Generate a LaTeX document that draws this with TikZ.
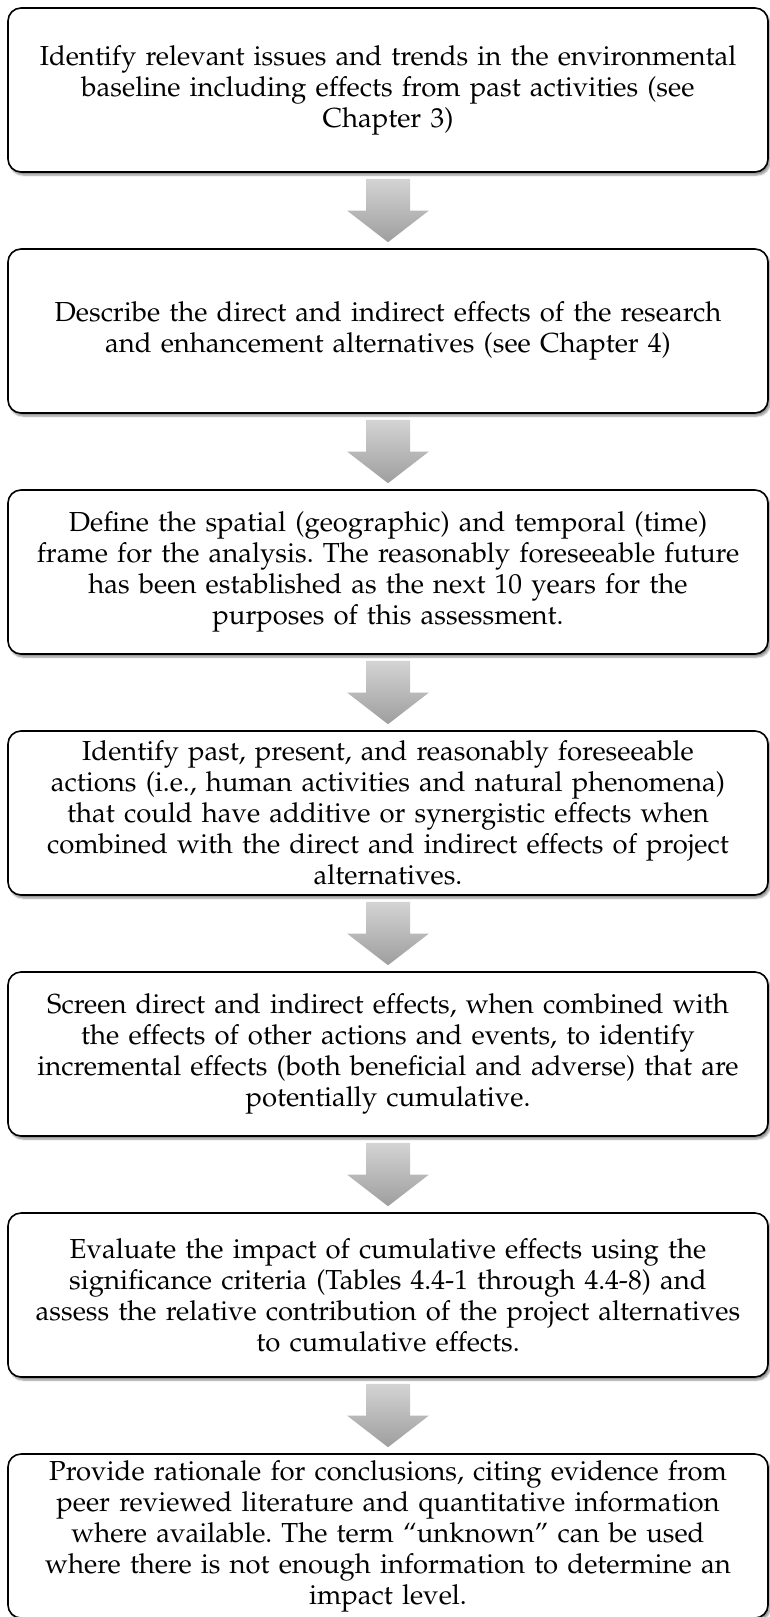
\documentclass[tikz,border=0pt]{standalone}
\usepackage[T1]{fontenc}
\usepackage{mathpazo}
\usetikzlibrary{shadows.blur,calc}
\begin{document}
\frenchspacing
\begin{tikzpicture}[x=1pt,y=1pt,
  stepbox/.style={draw=black, line width=1.6pt, rounded corners=13pt, fill=white,
    minimum width=760pt, minimum height=164pt, text width=758pt, align=center, inner sep=0pt,
    font=\fontsize{27.5}{31}\selectfont,
    blur shadow={shadow xshift=2pt, shadow yshift=-3pt, shadow blur steps=6, shadow opacity=45}},
  arrowfill/.style={top color=black!17, bottom color=black!38, draw=none}
]
\useasboundingbox (0,0) rectangle (770,-1617);
\node[stepbox] (b1) at (388,-90) {Identify relevant issues and trends in the environmental\\ baseline including effects from past activities (see\\ Chapter 3)};
\node[stepbox] (b2) at (388,-331) {Describe the direct and indirect effects of the research\\ and enhancement alternatives (see Chapter 4)};
\node[stepbox] (b3) at (388,-572) {Define the spatial (geographic) and temporal (time)\\ frame for the analysis. The reasonably foreseeable future\\ has been established as the next 10 years for the\\ purposes of this assessment.};
\node[stepbox] (b4) at (388,-813) {Identify past, present, and reasonably foreseeable\\ actions (i.e., human activities and natural phenomena)\\ that could have additive or synergistic effects when\\ combined with the direct and indirect effects of project\\ alternatives.};
\node[stepbox] (b5) at (388,-1054) {Screen direct and indirect effects, when combined with\\ the effects of other actions and events, to identify\\ incremental effects (both beneficial and adverse) that are\\ potentially cumulative.};
\node[stepbox] (b6) at (388,-1295) {Evaluate the impact of cumulative effects using the\\ significance criteria (Tables 4.4-1 through 4.4-8) and\\ assess the relative contribution of the project alternatives\\ to cumulative effects.};
\node[stepbox] (b7) at (388,-1536) {Provide rationale for conclusions, citing evidence from\\ peer reviewed literature and quantitative information\\ where available. The term ``unknown'' can be used\\ where there is not enough information to determine an\\ impact level.};
\foreach \a/\b in {b1/b2,b2/b3,b3/b4,b4/b5,b5/b6,b6/b7}{
  \shade[arrowfill] let \p1=($(\a.south)+(0,-6)$), \p2=($(\b.north)+(0,6)$), \n1={0.5*(\y1-\y2)} in
    (\x1-22,\y1) -- (\x1+22,\y1) -- (\x1+22,\y2+\n1) -- (\x1+41,\y2+\n1) -- (\x1,\y2)
    -- (\x1-41,\y2+\n1) -- (\x1-22,\y2+\n1) -- cycle;
}
\end{tikzpicture}
\end{document}
